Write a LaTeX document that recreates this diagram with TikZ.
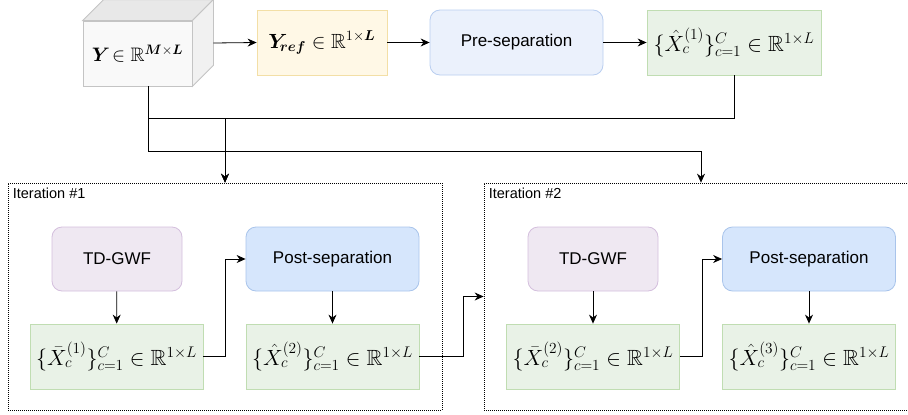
\RequirePackage{fix-cm}
\documentclass[tikz,border=0pt]{standalone}
\usepackage{fontspec}
\setmainfont{Liberation Sans}
\usepackage{amsmath,amssymb,bm}
\usetikzlibrary{arrows.meta}

\definecolor{cubefront}{HTML}{F9F9F9}
\definecolor{cubetop}{HTML}{E8E8E8}
\definecolor{cubeside}{HTML}{F1F1F1}
\definecolor{cubeline}{HTML}{C4C4C4}
\definecolor{reffill}{HTML}{FFF8E6}
\definecolor{refline}{HTML}{F3DFA6}
\definecolor{prefill}{HTML}{EBF1FC}
\definecolor{preline}{HTML}{B9CEF0}
\definecolor{estfill}{HTML}{E9F2E7}
\definecolor{estline}{HTML}{C0DDB2}
\definecolor{gwffill}{HTML}{EFE8F2}
\definecolor{gwfline}{HTML}{D4BFDD}
\definecolor{postfill}{HTML}{D6E6FC}
\definecolor{postline}{HTML}{A9C4EB}

\newcommand{\mathsz}{\fontsize{22}{26}\selectfont}

\tikzset{
  block/.style={draw, line width=0.8pt, minimum width=173pt, minimum height=65pt,
    inner sep=0pt, font=\mathsz},
  estbox/.style={block, fill=estfill, draw=estline},
  procbox/.style={block, rounded corners=10pt, font=\fontsize{17}{20}\selectfont},
  iterbox/.style={draw, line width=0.7pt, dash pattern=on 1pt off 1pt,
    minimum width=434pt, minimum height=227pt, inner sep=0pt},
  flow/.style={line width=0.8pt, -{Stealth[length=9pt,width=8pt]}},
}

\begin{document}
\begin{tikzpicture}[x=1pt, y=-1pt]
  \useasboundingbox (0,0) rectangle (908,415);

  % input cube
  \node[block, fill=cubefront, draw=cubeline, minimum width=109pt,
    font=\fontsize{19.5}{23}\selectfont] (Y) at (137.5,53.5)
    {$\bm{Y}\!\in\mathbb{R}^{\bm{M}\times\bm{L}}$};
  \draw[line width=0.8pt, draw=cubeline, fill=cubetop] (Y.north west) -- ++(21,-21)
    -- ([shift={(21pt,21pt)}]Y.north east) -- (Y.north east) -- cycle;
  \draw[line width=0.8pt, draw=cubeline, fill=cubeside] (Y.north east)
    -- ([shift={(21pt,21pt)}]Y.north east) -- ([shift={(21pt,21pt)}]Y.south east)
    -- (Y.south east) -- cycle;

  % top row
  \node[block, fill=reffill, draw=refline, minimum width=130pt,
    font=\fontsize{20.5}{24}\selectfont] (yref) at (322,42.5)
    {$\bm{Y}_{\!\bm{ref}}\in\mathbb{R}^{1\times\bm{L}}$};
  \node[procbox, fill=prefill, draw=preline] (pre) at (516.5,42.5) {Pre-separation};
  \node[estbox, minimum width=174pt] (xhat1) at (734,42.5)
    {$\{\hat{X}_c^{(1)}\}_{c=1}^{C}\in\mathbb{R}^{1\times L}$};

  % iteration frames
  \node[iterbox] (it1) at (225,296.5) {};
  \node[iterbox] (it2) at (701,296.5) {};
  \node[anchor=north west, inner sep=0pt, font=\fontsize{14.5}{17}\selectfont] (lab1)
    at ([shift={(5pt,-5pt)}]it1.north west) {Iteration \#1};
  \node[anchor=north west, inner sep=0pt, font=\fontsize{14.5}{17}\selectfont] (lab2)
    at ([shift={(5pt,-5pt)}]it2.north west) {Iteration \#2};

  % iteration 1
  \node[procbox, fill=gwffill, draw=gwfline, minimum width=130pt, minimum height=64pt] (gwf1)
    at (117,259) {TD-GWF};
  \node[procbox, fill=postfill, draw=postline, minimum height=64pt] (post1)
    at (332.5,259) {Post-separation};
  \node[estbox] (xbar1) at (116.5,356.5)
    {$\{\bar{X}_c^{(1)}\}_{c=1}^{C}\in\mathbb{R}^{1\times L}$};
  \node[estbox] (xhat2) at (332.5,356.5)
    {$\{\hat{X}_c^{(2)}\}_{c=1}^{C}\in\mathbb{R}^{1\times L}$};

  % iteration 2
  \node[procbox, fill=gwffill, draw=gwfline, minimum width=130pt, minimum height=64pt] (gwf2)
    at (593,259) {TD-GWF};
  \node[procbox, fill=postfill, draw=postline, minimum height=64pt] (post2)
    at (809,259) {Post-separation};
  \node[estbox] (xbar2) at (593,356.5)
    {$\{\bar{X}_c^{(2)}\}_{c=1}^{C}\in\mathbb{R}^{1\times L}$};
  \node[estbox] (xhat3) at (809,356.5)
    {$\{\hat{X}_c^{(3)}\}_{c=1}^{C}\in\mathbb{R}^{1\times L}$};

  % connectors
  \draw[flow] ([shift={(21pt,10.5pt)}]Y.east) -- (yref.west);
  \draw[flow] (yref) -- (pre);
  \draw[flow] (pre) -- (xhat1);
  \draw[flow] (xhat1.south) -- ++(0,43) -| (it1.north);
  \draw[flow] ([xshift=10.5pt]Y.south) -- ++(0,32) -| (it1.north);
  \draw[flow] ([xshift=10.5pt]Y.south) -- ++(0,65) -| (it2.north);

  \draw[flow] (gwf1) -- (xbar1);
  \draw[flow] (xbar1.east) -- ++(22,0) |- (post1.west);
  \draw[flow] (post1) -- (xhat2);
  \draw[flow] (xhat2.east) -- ++(44,0) |- (it2.west);

  \draw[flow] (gwf2) -- (xbar2);
  \draw[flow] (xbar2.east) -- ++(22,0) |- (post2.west);
  \draw[flow] (post2) -- (xhat3);
\end{tikzpicture}
\end{document}
